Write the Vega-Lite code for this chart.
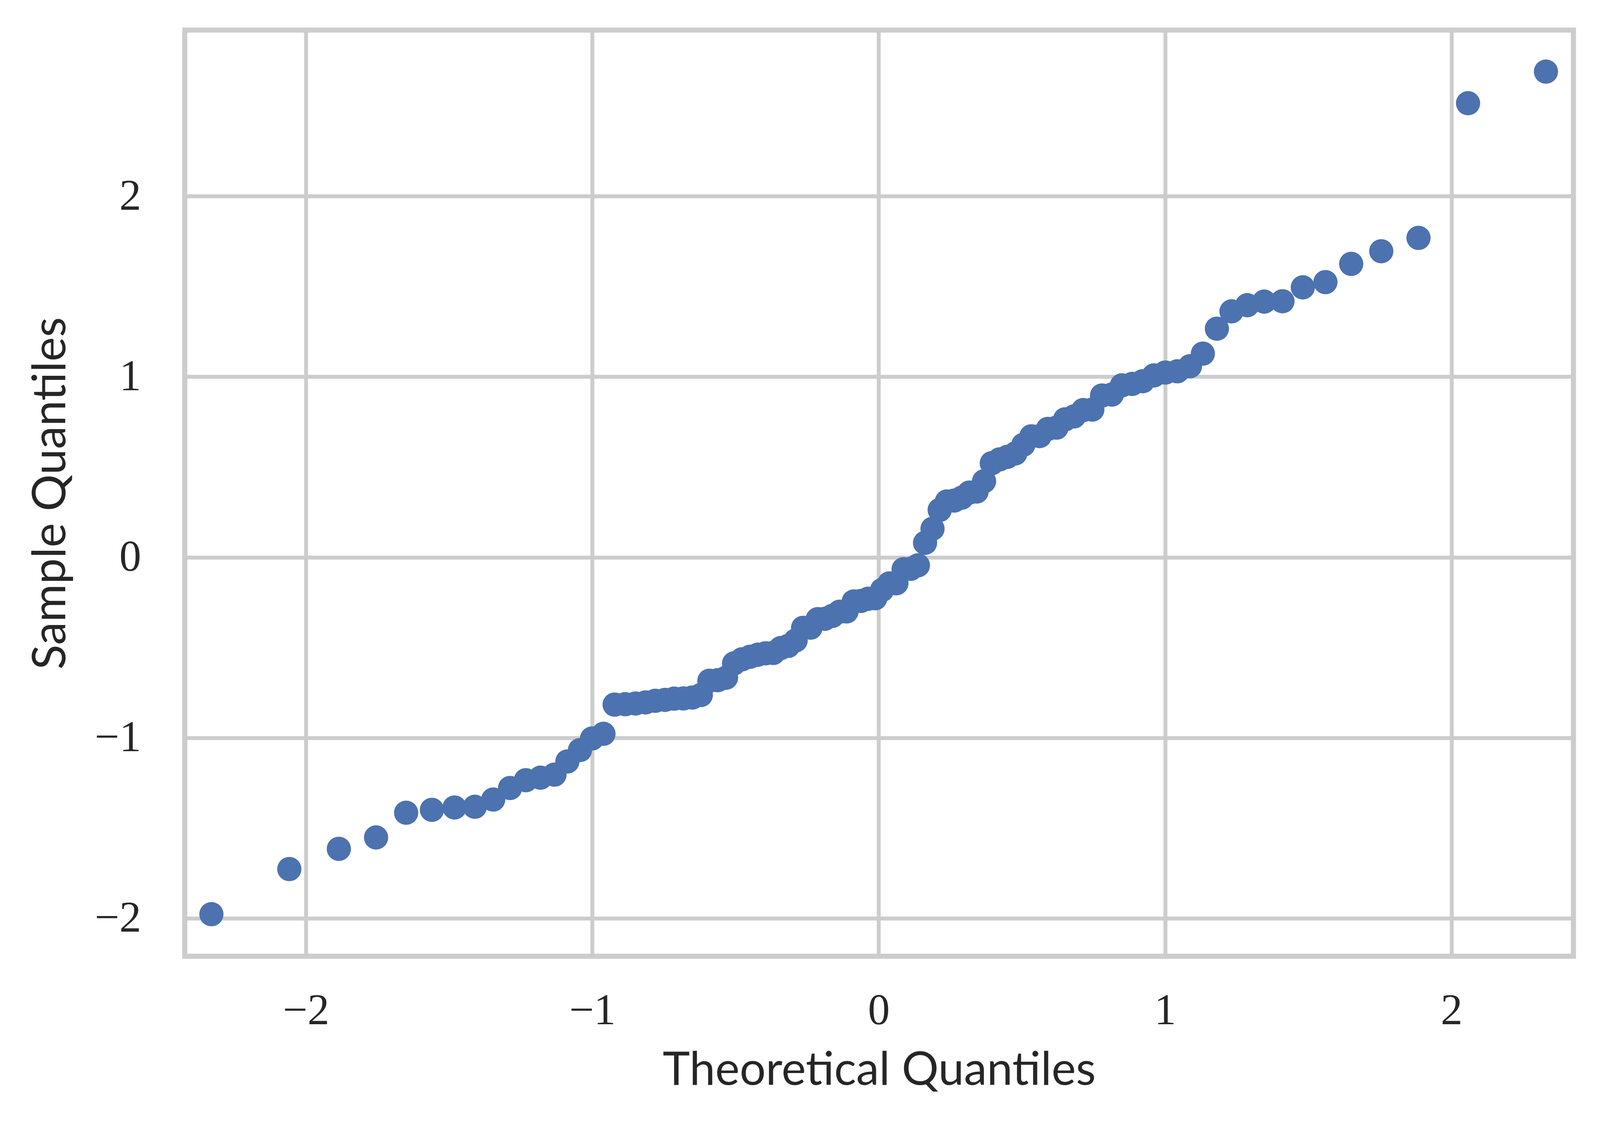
{
  "$schema": "https://vega.github.io/schema/vega-lite/v6.json",
  "width": "container",
  "height": 2880,
  "autosize": {"type": "fit", "contains": "padding"},
  "padding": {"left": 72, "top": 77, "right": 68, "bottom": 80},
  "background": "white",
  "data": {
    "values": [
      {"theoretical": -2.330, "sample": -1.977},
      {"theoretical": -2.058, "sample": -1.727},
      {"theoretical": -1.885, "sample": -1.615},
      {"theoretical": -1.755, "sample": -1.552},
      {"theoretical": -1.650, "sample": -1.415},
      {"theoretical": -1.560, "sample": -1.399},
      {"theoretical": -1.481, "sample": -1.386},
      {"theoretical": -1.410, "sample": -1.382},
      {"theoretical": -1.346, "sample": -1.342},
      {"theoretical": -1.287, "sample": -1.278},
      {"theoretical": -1.232, "sample": -1.235},
      {"theoretical": -1.181, "sample": -1.221},
      {"theoretical": -1.132, "sample": -1.204},
      {"theoretical": -1.087, "sample": -1.131},
      {"theoretical": -1.043, "sample": -1.068},
      {"theoretical": -1.001, "sample": -1.004},
      {"theoretical": -0.961, "sample": -0.978},
      {"theoretical": -0.922, "sample": -0.816},
      {"theoretical": -0.885, "sample": -0.814},
      {"theoretical": -0.849, "sample": -0.810},
      {"theoretical": -0.814, "sample": -0.804},
      {"theoretical": -0.780, "sample": -0.795},
      {"theoretical": -0.746, "sample": -0.790},
      {"theoretical": -0.714, "sample": -0.783},
      {"theoretical": -0.682, "sample": -0.782},
      {"theoretical": -0.651, "sample": -0.777},
      {"theoretical": -0.621, "sample": -0.763},
      {"theoretical": -0.591, "sample": -0.684},
      {"theoretical": -0.562, "sample": -0.681},
      {"theoretical": -0.533, "sample": -0.667},
      {"theoretical": -0.505, "sample": -0.588},
      {"theoretical": -0.477, "sample": -0.565},
      {"theoretical": -0.449, "sample": -0.551},
      {"theoretical": -0.422, "sample": -0.540},
      {"theoretical": -0.395, "sample": -0.532},
      {"theoretical": -0.368, "sample": -0.530},
      {"theoretical": -0.342, "sample": -0.503},
      {"theoretical": -0.316, "sample": -0.491},
      {"theoretical": -0.290, "sample": -0.461},
      {"theoretical": -0.264, "sample": -0.391},
      {"theoretical": -0.238, "sample": -0.390},
      {"theoretical": -0.213, "sample": -0.343},
      {"theoretical": -0.188, "sample": -0.341},
      {"theoretical": -0.162, "sample": -0.325},
      {"theoretical": -0.137, "sample": -0.302},
      {"theoretical": -0.112, "sample": -0.300},
      {"theoretical": -0.087, "sample": -0.245},
      {"theoretical": -0.062, "sample": -0.242},
      {"theoretical": -0.037, "sample": -0.230},
      {"theoretical": -0.012, "sample": -0.227},
      {"theoretical": 0.012, "sample": -0.181},
      {"theoretical": 0.037, "sample": -0.145},
      {"theoretical": 0.062, "sample": -0.144},
      {"theoretical": 0.087, "sample": -0.066},
      {"theoretical": 0.112, "sample": -0.064},
      {"theoretical": 0.137, "sample": -0.045},
      {"theoretical": 0.162, "sample": 0.080},
      {"theoretical": 0.188, "sample": 0.158},
      {"theoretical": 0.213, "sample": 0.262},
      {"theoretical": 0.238, "sample": 0.309},
      {"theoretical": 0.264, "sample": 0.314},
      {"theoretical": 0.290, "sample": 0.330},
      {"theoretical": 0.316, "sample": 0.358},
      {"theoretical": 0.342, "sample": 0.364},
      {"theoretical": 0.368, "sample": 0.421},
      {"theoretical": 0.395, "sample": 0.521},
      {"theoretical": 0.422, "sample": 0.542},
      {"theoretical": 0.449, "sample": 0.556},
      {"theoretical": 0.477, "sample": 0.575},
      {"theoretical": 0.505, "sample": 0.623},
      {"theoretical": 0.533, "sample": 0.670},
      {"theoretical": 0.562, "sample": 0.671},
      {"theoretical": 0.591, "sample": 0.711},
      {"theoretical": 0.621, "sample": 0.718},
      {"theoretical": 0.651, "sample": 0.764},
      {"theoretical": 0.682, "sample": 0.780},
      {"theoretical": 0.714, "sample": 0.815},
      {"theoretical": 0.746, "sample": 0.818},
      {"theoretical": 0.780, "sample": 0.896},
      {"theoretical": 0.814, "sample": 0.901},
      {"theoretical": 0.849, "sample": 0.952},
      {"theoretical": 0.885, "sample": 0.960},
      {"theoretical": 0.922, "sample": 0.975},
      {"theoretical": 0.961, "sample": 1.007},
      {"theoretical": 1.001, "sample": 1.023},
      {"theoretical": 1.043, "sample": 1.030},
      {"theoretical": 1.087, "sample": 1.058},
      {"theoretical": 1.132, "sample": 1.128},
      {"theoretical": 1.181, "sample": 1.266},
      {"theoretical": 1.232, "sample": 1.362},
      {"theoretical": 1.287, "sample": 1.396},
      {"theoretical": 1.346, "sample": 1.416},
      {"theoretical": 1.410, "sample": 1.418},
      {"theoretical": 1.481, "sample": 1.495},
      {"theoretical": 1.560, "sample": 1.524},
      {"theoretical": 1.650, "sample": 1.625},
      {"theoretical": 1.755, "sample": 1.695},
      {"theoretical": 1.885, "sample": 1.769},
      {"theoretical": 2.058, "sample": 2.515},
      {"theoretical": 2.330, "sample": 2.690}
    ]
  },
  "mark": {"type": "circle", "size": 3850, "color": "#4c72b0", "opacity": 1},
  "encoding": {
    "x": {
      "field": "theoretical",
      "type": "quantitative",
      "scale": {"domain": [-2.423, 2.426], "nice": false, "zero": false},
      "axis": {
        "title": "Theoretical Quantiles",
        "values": [-2, -1, 0, 1, 2],
        "titleY": 328,
        "titleBaseline": "alphabetic",
        "labelPadding": 85
      }
    },
    "y": {
      "field": "sample",
      "type": "quantitative",
      "scale": {"domain": [-2.21, 2.92], "nice": false, "zero": false},
      "axis": {
        "title": "Sample Quantiles",
        "values": [-2, -1, 0, 1, 2],
        "titleX": -307,
        "titleBaseline": "alphabetic",
        "labelPadding": 112
      }
    }
  },
  "config": {
    "view": {"stroke": "#cccccc", "strokeWidth": 13},
    "axis": {
      "domain": false,
      "ticks": false,
      "grid": true,
      "gridColor": "#cccccc",
      "gridWidth": 10,
      "gridOpacity": 1,
      "labelFont": "Liberation Serif",
      "labelFontSize": 112,
      "labelColor": "#262626",
      "labelFontWeight": "normal",
      "titleFont": "Lato",
      "titleFontSize": 118,
      "titleFontWeight": "normal",
      "titleColor": "#262626",
      "labelOverlap": false,
      "labelFlush": false,
      "labelBound": false
    }
  }
}
